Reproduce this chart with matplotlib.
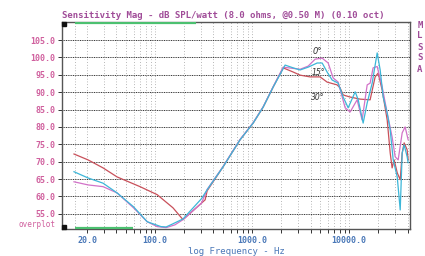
import numpy as np
import matplotlib.pyplot as plt
from matplotlib.ticker import FixedLocator, NullFormatter

# frequency response (Hz, dB)
f_red = [14.6, 20.4, 29.1, 40.6, 70, 105, 153, 194, 328, 344, 502, 752, 1025, 1300, 1650, 2090,
         2650, 3125, 3960, 5020, 5930, 7520, 8070, 8680, 10240, 12970, 16450, 18530, 19900,
         21900, 24660, 26490, 27720, 29100, 31290, 33600, 35200, 36900, 39600, 40550]
db_red = [72.2, 70.5, 68.2, 65.6, 62.8, 60.5, 56.7, 53.3, 59.0, 61.6, 68.5, 76.3, 81.1, 85.7, 91.5, 97.0,
          95.8, 94.9, 94.4, 94.4, 92.9, 92.1, 91.2, 89.2, 88.6, 88.0, 87.8, 94.4, 95.5,
          90.6, 82.0, 72.5, 68.2, 70.5, 66.8, 64.8, 72.5, 75.4, 73.4, 70.5]

f_pink = [14.6, 20.4, 29.1, 40.6, 60, 83, 105, 130, 160, 194, 300, 344, 502, 752, 1025, 1300, 1650,
          2090, 3125, 3780, 4460, 5270, 6080, 6840, 7700, 9100, 10240, 12080, 13600, 15340,
          16450, 17650, 19440, 21900, 24660, 27720, 29800, 32000, 35200, 37750, 40550]
db_pink = [64.2, 63.3, 62.8, 61.0, 56.7, 52.7, 51.3, 51.0, 51.8, 53.3, 58.0, 62.0, 68.6, 76.4, 81.2, 85.8, 91.6,
           97.2, 96.6, 97.5, 99.5, 99.8, 98.4, 94.1, 92.9, 85.5, 84.3, 87.8, 82.0, 92.1,
           92.6, 97.0, 97.4, 91.5, 84.0, 77.1, 71.4, 70.5, 78.3, 80.0, 76.3]

f_cyan = [14.6, 20.4, 29.1, 40.6, 60, 83, 115, 130, 150, 194, 300, 344, 502, 752, 1025, 1300, 1650,
          2188, 2650, 3125, 3780, 4680, 5270, 5930, 6680, 7700, 8680, 9770, 11540, 12400, 13940,
          15340, 17270, 19440, 20880, 22420, 24660, 26490, 28450, 31290, 33600, 35200, 36900,
          39600, 40550]
db_cyan = [67.1, 65.3, 63.8, 61.0, 57.0, 52.7, 51.3, 51.2, 52.0, 53.5, 59.3, 61.9, 68.5, 76.3, 81.1, 85.7, 91.5,
           97.8, 97.0, 96.4, 97.2, 98.4, 98.4, 95.8, 93.5, 92.6, 88.6, 85.5, 90.1, 87.8, 81.1,
           86.9, 92.6, 101.3, 96.4, 88.6, 84.0, 79.1, 70.5, 65.6, 56.1, 72.5, 74.8,
           71.4, 69.7]

x_major = [20, 100, 1000, 10000]
x_major_lab = ['20.0', '100.0', '1000.0', '10000.0']
x_minor = [30, 40, 50, 60, 70, 80, 90, 200, 300, 400, 500, 600, 700, 800, 900,
           2000, 3000, 4000, 5000, 6000, 7000, 8000, 9000, 20000, 30000, 40000]
y_ticks = [55, 60, 65, 70, 75, 80, 85, 90, 95, 100, 105]

mono = 'DejaVu Sans Mono'
pink_txt = '#d0609e'
blue_txt = '#4a78b8'

fig = plt.figure(figsize=(4.25, 2.56), dpi=100)
ax = fig.add_axes([0.146, 0.104, 0.819, 0.81])

# grid
for v in [15] + x_major + x_minor:
    ax.axvline(v, color='#777777', lw=0.5, ls=(0, (1, 3)), zorder=1)
for h in y_ticks:
    ax.axhline(h, color='#333333', lw=0.7, ls=(0, (1, 0.8)), zorder=1)

ax.semilogx(f_red, db_red, color='#c8505a', lw=0.9, zorder=3)
ax.semilogx(f_pink, db_pink, color='#d272c8', lw=0.9, zorder=3)
ax.semilogx(f_cyan, db_cyan, color='#3cb6d8', lw=0.9, zorder=4)

ax.set_xlim(11, 42500)
ax.set_ylim(50.5, 110.2)

ax.xaxis.set_major_locator(FixedLocator(x_major))
ax.xaxis.set_minor_locator(FixedLocator(x_minor))
ax.xaxis.set_minor_formatter(NullFormatter())
ax.set_xticklabels(x_major_lab)
ax.set_yticks(y_ticks)
ax.set_yticklabels(['%.1f' % t for t in y_ticks])
ax.tick_params(axis='x', which='both', direction='out', length=3, width=0.7, color='#333333',
               labelsize=6, labelcolor=blue_txt, pad=2)
ax.tick_params(axis='y', direction='out', length=3, width=0.7, color='#333333',
               labelsize=6, labelcolor=pink_txt, pad=2)
for lab in ax.get_xticklabels() + ax.get_yticklabels():
    lab.set_family(mono)
    lab.set_fontweight('bold')
for s in ax.spines.values():
    s.set_color('#555555')
    s.set_linewidth(1.0)

ax.set_xlabel('log Frequency - Hz', family=mono, fontsize=6.5, color=blue_txt, labelpad=1)
ax.set_title('Sensitivity Mag - dB SPL/watt (8.0 ohms, @0.50 M) (0.10 oct)',
             family=mono, fontsize=6.5, color='#a04c98', fontweight='bold', pad=3, loc='left')

ax.text(-0.02, 0.0, 'overplot', transform=ax.transAxes, ha='right', va='bottom',
        family=mono, fontsize=5.5, color=pink_txt)

# green range bars and corner squares
ax.plot([15, 265], [109.9, 109.9], color='#4cc070', lw=1.6, solid_capstyle='butt', zorder=5)
ax.plot([15, 59], [50.8, 50.8], color='#4cc070', lw=1.6, solid_capstyle='butt', zorder=5)
ax.plot([11.4], [109.5], marker='s', ms=3, color='#111111', zorder=6, clip_on=False)
ax.plot([11.4], [51.2], marker='s', ms=3, color='#111111', zorder=6, clip_on=False)

# handwritten angle notes
ax.text(4700, 101.6, '0°', fontsize=6, color='#333333', style='italic', ha='center', va='center')
ax.text(4800, 95.6, '15°', fontsize=5.5, color='#333333', style='italic', ha='center', va='center')
ax.text(4700, 88.6, '30°', fontsize=5.5, color='#333333', style='italic', ha='center', va='center')

for i, ch in enumerate('MLSSA'):
    fig.text(0.988, 1 - (25 + i * 11) / 256, ch, family=mono, fontsize=6.5, fontweight='bold',
             color='#a04c98', ha='center', va='center')

fig.savefig('out.png', dpi=100)
